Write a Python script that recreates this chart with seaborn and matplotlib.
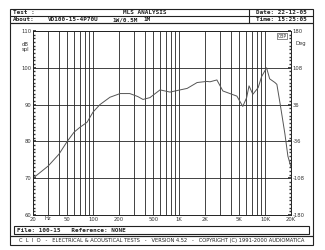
import matplotlib
matplotlib.use("Agg")
import matplotlib.pyplot as plt
import seaborn as sns
import pandas as pd
import numpy as np
from matplotlib.patches import Rectangle

# ---- data ----
freq = [20, 30, 40, 50, 60, 70, 85, 100, 120, 157, 206, 267, 330, 380, 458, 600,
        784, 1030, 1240, 1620, 2100, 2290, 2750, 3230, 3900, 4700, 5500, 6100,
        6500, 7200, 8300, 9100, 10400, 11300, 13000, 13700, 15000, 17000, 18400, 20000]
spl = [70, 73.3, 76.5, 80, 82.5, 83.8, 85.2, 88, 90, 92, 93, 93, 92.2, 91.4, 91.9, 94,
       93.4, 94, 94.4, 96, 96.3, 96.2, 96.7, 93.7, 93, 92.3, 89.5, 91.9,
       95.1, 92.8, 94.6, 97.6, 100, 97, 96, 95.5, 90, 82, 76, 73]
x_ticks = [20, 50, 100, 200, 500, 1000, 2000, 5000, 10000, 20000]
x_labels = ["20", "50", "100", "200", "500", "1K", "2K", "5K", "10K", "20K"]
y_ticks = [60, 70, 80, 90, 100, 110]
y_labels = ["60", "70", "80", "90", "100", "110"]
deg_labels = ["-180", "-108", "-36", "36", "108", "180"]

sns.set_theme(style="white")
plt.rcParams['font.family'] = ['DejaVu Sans']

W, H = 325, 250
fig = plt.figure(figsize=(W / 100, H / 100), dpi=100)

# overlay axes in pixel coordinates
ov = fig.add_axes([0, 0, 1, 1])
ov.set_xlim(0, W)
ov.set_ylim(H, 0)
ov.axis("off")

lw = 0.8
fs = 4.3
mono = dict(family="DejaVu Sans Mono", fontsize=fs, fontweight="bold", color="#222222", va="center")

# header
ov.add_patch(Rectangle((10, 9), 303, 14, fill=False, lw=lw, ec="#222222"))
ov.plot([10, 313], [16, 16], color="#222222", lw=lw)
ov.plot([249, 249], [9, 23], color="#222222", lw=lw)
ov.text(13, 12.5, "Test :", **mono)
ov.text(145, 12.5, "MLS ANALYSIS", ha="center", **mono)
ov.text(256, 12.5, "Date: 22-12-05", **mono)
ov.text(13, 19.5, "About:", **mono)
ov.text(48, 19.5, "VD100-15-4P70U", **mono)
ov.text(112, 19.5, "1W/0.5M", **mono)
ov.text(143, 19.5, "1M", **mono)
ov.text(256, 19.5, "Time: 15:25:05", **mono)

# main frame
ov.add_patch(Rectangle((10, 23), 303, 213, fill=False, lw=lw, ec="#222222"))
# file box
ov.add_patch(Rectangle((14, 226), 295, 8, fill=False, lw=lw, ec="#222222"))
ov.text(17, 230, "File: 100-15   Reference: NONE", **mono)
# bottom clio box
ov.add_patch(Rectangle((10, 236), 303, 9, fill=False, lw=lw, ec="#222222"))
ov.text(161.5, 240.5, "C  L  I  O   -   ELECTRICAL & ACOUSTICAL TESTS   -   VERSION 4.52   -   COPYRIGHT (C) 1991-2000 AUDIOMATICA",
        ha="center", family="DejaVu Sans", fontsize=3.7, color="#222222", va="center")

# axis labels
ov.text(22, 44, "dB", fontsize=3.8, color="#333333", va="center")
ov.text(22, 50, "spl", fontsize=3.8, color="#333333", va="center")
ov.text(295, 44, "Deg", fontsize=3.8, color="#333333", va="center")
ov.text(48, 219, "Hz", fontsize=3.8, color="#333333", va="center", ha="center")

# plot axes
L, R, T, B = 33, 291, 31, 215
ax = fig.add_axes([L / W, 1 - B / H, (R - L) / W, (B - T) / H])
df = pd.DataFrame({"freq": freq, "spl": spl})
sns.lineplot(data=df, x="freq", y="spl", ax=ax, color="#555555", lw=0.7)
ax.set_xscale("log")
ax.set_xlim(20, 20000)
ax.set_ylim(60, 110)
ax.set_xlabel("")
ax.set_ylabel("")

minor = []
for d in [10, 100, 1000, 10000]:
    for m in range(1, 10):
        v = d * m
        if 20 <= v <= 20000:
            minor.append(v)
for v in minor:
    ax.axvline(v, color="#222222", lw=0.6, zorder=0)
for v in y_ticks:
    ax.axhline(v, color="#222222", lw=0.6, zorder=0)

ax.set_xticks(x_ticks)
ax.set_xticklabels(x_labels)
ax.xaxis.set_minor_locator(matplotlib.ticker.NullLocator())
ax.set_yticks(y_ticks)
ax.set_yticklabels(y_labels)
ax.set_yticks(np.arange(60, 111, 1), minor=True)
ax.tick_params(axis="x", labelsize=3.8, length=0, pad=1.2, colors="#333333")
ax.tick_params(axis="y", which="major", labelsize=3.8, length=2, pad=1, colors="#333333", direction="in")
ax.tick_params(axis="y", which="minor", length=1.2, direction="in", colors="#333333")
for s in ax.spines.values():
    s.set_color("#222222")
    s.set_linewidth(0.7)

ax2 = ax.twinx()
ax2.set_ylim(-180, 180)
ax2.set_yticks(np.linspace(-180, 180, 6))
ax2.set_yticklabels(deg_labels)
ax2.set_yticks(np.linspace(-180, 180, 51), minor=True)
ax2.tick_params(axis="y", which="major", labelsize=3.8, length=2, pad=1, colors="#333333", direction="in")
ax2.tick_params(axis="y", which="minor", length=1.2, direction="in", colors="#333333")
ax2.grid(False)
for s in ax2.spines.values():
    s.set_visible(False)

ax.text(0.965, 0.985, "CBP", transform=ax.transAxes, fontsize=3.3, color="#333333",
        ha="center", va="top", bbox=dict(facecolor="white", edgecolor="#333333", lw=0.4, pad=0.3))

fig.savefig("out.png", dpi=100)
